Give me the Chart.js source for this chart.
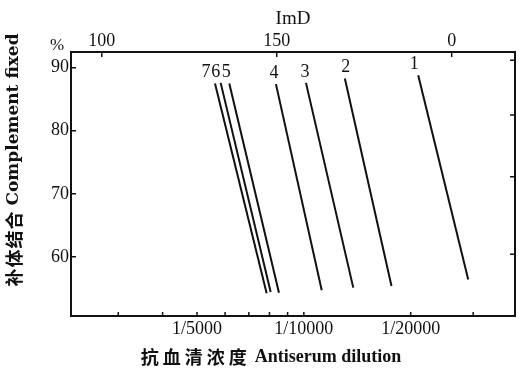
<!DOCTYPE html>
<html>
<head>
<meta charset="utf-8">
<script src="https://cdn.jsdelivr.net/npm/chart.js@4.4.0/dist/chart.umd.min.js"></script>
<style>
  html, body { margin: 0; padding: 0; background: #fff; }
  #wrap { width: 525px; height: 379px; }
</style>
</head>
<body>
<div id="wrap"><canvas id="c" width="525" height="379"></canvas></div>
<script>
// curves 1..7, each a straight segment (upper end, lower end)
const curveNames = ['1', '2', '3', '4', '5', '6', '7'];
const dilutionTop = [21000, 13050, 10140, 8345, 6166, 5830, 5620];
const dilutionBottom = [29050, 17660, 13780, 11230, 8510, 8064, 7856];
const fixedTop = [88.8, 88.3, 87.6, 87.4, 87.5, 87.6, 87.5];
const fixedBottom = [56.4, 55.35, 55.1, 54.7, 54.3, 54.4, 54.2];

// axes
const dilutionTicks = [3000, 4000, 5000, 6000, 7000, 8000, 9000, 10000, 20000, 30000];
const dilutionLabelled = [5000, 10000, 20000];
const imdTicks = [100, 150, 200];
const imdLabels = ['100', '150', '0'];
const fixedTicks = [60, 70, 80, 90];
const rightTicks = [60.4, 72.7, 82.5, 91.2];

const ink = '#111';
const serif = '"Liberation Serif", "DejaVu Serif", "Noto Sans CJK SC", serif';
const cjk = '"Noto Sans CJK SC", sans-serif';

function fixSize(prop, size) {
    return function(scale) { scale[prop] = size; };
}
function setTicks(values) {
    return function(scale) { scale.ticks = values.map(v => ({ value: v })); };
}

// draw a run of text pieces with their own fonts, centred on (0, 0)
function drawMixed(ctx, parts) {
    let total = 0;
    parts.forEach(p => {
        ctx.font = p.font;
        ctx.letterSpacing = (p.spacing || 0) + 'px';
        p.w = ctx.measureText(p.text).width;
        total += p.w + (p.gap || 0);
    });
    let x = -total / 2;
    ctx.textAlign = 'left';
    ctx.textBaseline = 'middle';
    parts.forEach(p => {
        ctx.font = p.font;
        ctx.letterSpacing = (p.spacing || 0) + 'px';
        ctx.fillText(p.text, x, 0);
        x += p.w + (p.gap || 0);
    });
    ctx.letterSpacing = '0px';
}

// inward tick marks, curve numbers, % sign and the two axis titles
const decorate = {
    id: 'decorate',
    afterDraw(chart) {
        const ctx = chart.ctx;
        const area = chart.chartArea;
        const s = chart.scales;
        ctx.save();
        ctx.strokeStyle = ink;
        ctx.lineWidth = 1.5;
        ctx.beginPath();
        dilutionTicks.forEach(v => {
            const x = s.x.getPixelForValue(v);
            ctx.moveTo(x, area.bottom); ctx.lineTo(x, area.bottom - 4);
        });
        imdTicks.forEach(v => {
            const x = s.x2.getPixelForValue(v);
            ctx.moveTo(x, area.top); ctx.lineTo(x, area.top + 5);
        });
        fixedTicks.forEach(v => {
            const y = s.y.getPixelForValue(v);
            ctx.moveTo(area.left, y); ctx.lineTo(area.left + 5, y);
        });
        rightTicks.forEach(v => {
            const y = s.y.getPixelForValue(v);
            ctx.moveTo(area.right, y); ctx.lineTo(area.right - 5, y);
        });
        ctx.stroke();

        ctx.fillStyle = ink;
        ctx.font = '18px ' + serif;
        ctx.textAlign = 'center';
        ctx.textBaseline = 'middle';
        const shift = [-4, 1, -1, -2, -3, -5, -9];
        curveNames.forEach((n, i) => {
            const x = s.x.getPixelForValue(dilutionTop[i]);
            const y = s.y.getPixelForValue(fixedTop[i]);
            ctx.fillText(n, x + shift[i], y - 11);
        });
        ctx.font = '17px ' + serif;
        ctx.fillText('%', area.left - 14, area.top - 6);

        // bottom title
        ctx.save();
        ctx.translate(271, 357);
        drawMixed(ctx, [
            { text: '抗血清浓度', font: 'bold 18px ' + cjk, spacing: 4, gap: 4 },
            { text: 'Antiserum dilution', font: 'bold 18px ' + serif }
        ]);
        ctx.restore();

        // left title, reading upwards
        ctx.save();
        ctx.translate(14, 160);
        ctx.rotate(-Math.PI / 2);
        drawMixed(ctx, [
            { text: '补体结合', font: 'bold 18px ' + cjk, spacing: 1, gap: 5 },
            { text: 'Complement fixed', font: 'bold 17px "DejaVu Serif", serif' }
        ]);
        ctx.restore();
        ctx.restore();
    }
};

const datasets = curveNames.map((n, i) => ({
    label: n,
    data: [
        { x: dilutionTop[i], y: fixedTop[i] },
        { x: dilutionBottom[i], y: fixedBottom[i] }
    ],
    borderColor: ink,
    borderWidth: 2,
    pointRadius: 0,
    fill: false
}));

const tickFont = { family: serif, size: 18 };

new Chart(document.getElementById('c'), {
    type: 'line',
    data: { datasets: datasets },
    plugins: [decorate],
    options: {
        responsive: false,
        animation: false,
        layout: { padding: 0 },
        plugins: { legend: { display: false }, tooltip: { enabled: false } },
        scales: {
            x: {
                type: 'logarithmic',
                position: 'bottom',
                min: 2208,
                max: 39350,
                afterBuildTicks: setTicks(dilutionTicks),
                afterFit: fixSize('height', 63),
                grid: { display: false, drawTicks: false },
                border: { display: true, color: ink, width: 2 },
                ticks: {
                    autoSkip: false,
                    maxRotation: 0,
                    padding: 2,
                    color: ink,
                    font: tickFont,
                    callback: v => dilutionLabelled.includes(v) ? '1/' + v : ''
                }
            },
            x2: {
                type: 'linear',
                position: 'top',
                min: 91.2,
                max: 218.1,
                afterBuildTicks: setTicks(imdTicks),
                afterFit: fixSize('height', 52),
                grid: { display: false, drawTicks: false },
                border: { display: true, color: ink, width: 2 },
                ticks: {
                    autoSkip: false,
                    maxRotation: 0,
                    padding: 0,
                    color: ink,
                    font: tickFont,
                    callback: (v, i) => imdLabels[i]
                },
                title: {
                    display: true,
                    text: 'ImD',
                    color: ink,
                    font: { family: serif, size: 19 },
                    padding: { top: 8, bottom: 0 }
                }
            },
            y: {
                type: 'linear',
                position: 'left',
                min: 50.6,
                max: 92.5,
                afterBuildTicks: setTicks(fixedTicks),
                afterFit: fixSize('width', 71),
                grid: { display: false, drawTicks: false },
                border: { display: true, color: ink, width: 2 },
                ticks: {
                    padding: 2,
                    color: ink,
                    font: tickFont
                }
            },
            y2: {
                type: 'linear',
                position: 'right',
                min: 50.6,
                max: 92.5,
                afterFit: fixSize('width', 10),
                grid: { display: false, drawTicks: false },
                border: { display: true, color: ink, width: 2 },
                ticks: { display: false }
            }
        }
    }
});
</script>
</body>
</html>
